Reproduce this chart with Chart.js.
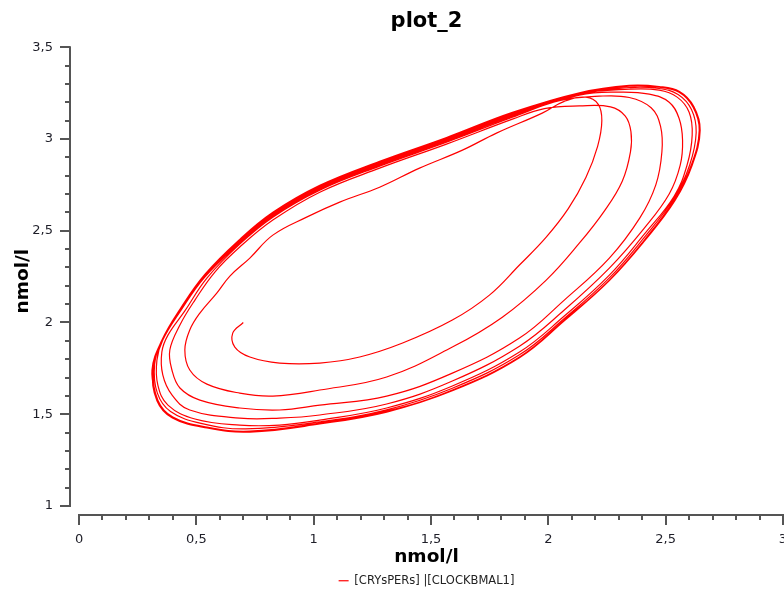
<!DOCTYPE html>
<html lang="es">
<head>
<meta charset="utf-8">
<title>plot_2</title>
<script src="https://cdn.jsdelivr.net/npm/chart.js@4.4.1/dist/chart.umd.min.js"></script>
<style>
    html, body { margin: 0; padding: 0; background: #fff; }
    #grafica-div { width: 784px; height: 589px; }
</style>
</head>
<body>
<div id="grafica-div"><canvas id="myChart"></canvas></div>
<script>
// Trayectoria: [CRYsPERs, CLOCKBMAL1] en nmol/l, una vuelta por arreglo
const vuelta0 = [[0.70,2.00],[0.655,1.942],[0.664,1.866],[0.728,1.812],[0.855,1.779],[1.026,1.779],[1.196,1.812],[1.379,1.888],[1.591,2.013],[1.749,2.149],[1.877,2.313],[1.991,2.465],[2.085,2.620],[2.160,2.790],[2.210,2.960],[2.228,3.100],[2.212,3.190],[2.160,3.228],[2.068,3.205],[1.974,3.141],[1.779,3.032],[1.634,2.939],[1.451,2.841],[1.281,2.737],[1.111,2.656],[0.970,2.574],[0.826,2.476],[0.728,2.351],[0.643,2.253],[0.587,2.160],[0.515,2.051],[0.472,1.959],[0.451,1.850]];
const vuelta1 = [[0.472,1.741],[0.545,1.664],[0.685,1.615],[0.826,1.599],[1.026,1.632],[1.311,1.703],[1.591,1.866],[1.804,2.029],[1.991,2.231],[2.132,2.432],[2.240,2.610],[2.315,2.770],[2.350,2.930],[2.352,3.040],[2.328,3.125],[2.265,3.175],[2.132,3.180],[1.983,3.165],[1.847,3.108],[1.566,2.972],[1.281,2.841],[1.026,2.710],[0.826,2.558],[0.685,2.411],[0.579,2.275],[0.494,2.122],[0.430,1.986],[0.387,1.850]];
const vuelta2 = [[0.396,1.741],[0.430,1.643],[0.515,1.577],[0.685,1.534],[0.855,1.523],[1.026,1.550],[1.311,1.599],[1.591,1.724],[1.877,1.915],[2.068,2.122],[2.260,2.351],[2.390,2.570],[2.458,2.750],[2.484,2.930],[2.478,3.070],[2.438,3.170],[2.345,3.226],[2.217,3.233],[2.047,3.208],[1.847,3.118],[1.566,2.982],[1.281,2.852],[1.026,2.721],[0.826,2.574],[0.685,2.427],[0.545,2.242],[0.451,2.063],[0.379,1.931],[0.353,1.839]];
const vuelta3 = [[0.357,1.714],[0.396,1.605],[0.472,1.523],[0.685,1.479],[0.855,1.479],[1.026,1.496],[1.311,1.556],[1.591,1.681],[1.877,1.871],[2.068,2.068],[2.260,2.296],[2.409,2.514],[2.515,2.700],[2.562,2.857],[2.572,2.993],[2.557,3.113],[2.515,3.200],[2.430,3.244],[2.302,3.255],[2.132,3.239],[1.847,3.124],[1.566,2.988],[1.281,2.857],[1.026,2.727],[0.826,2.580],[0.685,2.432],[0.536,2.247],[0.430,2.057],[0.357,1.904],[0.332,1.795]];
const vuelta4 = [[0.336,1.659],[0.379,1.550],[0.494,1.474],[0.685,1.441],[0.855,1.441],[1.026,1.468],[1.311,1.534],[1.591,1.654],[1.877,1.839],[2.068,2.035],[2.260,2.258],[2.409,2.481],[2.536,2.688],[2.591,2.857],[2.613,3.021],[2.600,3.146],[2.549,3.228],[2.472,3.266],[2.345,3.271],[2.132,3.244],[1.847,3.130],[1.566,2.993],[1.281,2.863],[1.026,2.732],[0.826,2.585],[0.685,2.438],[0.536,2.250],[0.430,2.060],[0.355,1.904],[0.322,1.770]];
const vuelta5 = [[0.334,1.615],[0.390,1.515],[0.520,1.450],[0.710,1.420],[1.026,1.458],[1.311,1.524],[1.591,1.642],[1.877,1.824],[2.068,2.022],[2.260,2.243],[2.409,2.464],[2.536,2.678],[2.602,2.857],[2.630,3.035],[2.610,3.160],[2.553,3.242],[2.472,3.275],[2.345,3.280],[2.132,3.246],[1.847,3.136],[1.566,2.998],[1.281,2.868],[1.026,2.738],[0.826,2.590],[0.685,2.444],[0.536,2.254],[0.430,2.064],[0.356,1.904],[0.317,1.741]];
const vuelta6 = [[0.336,1.577],[0.400,1.485],[0.545,1.430],[0.728,1.408],[1.026,1.452],[1.311,1.517],[1.591,1.632],[1.877,1.812],[2.068,2.013],[2.260,2.231],[2.409,2.449],[2.536,2.667],[2.609,2.857],[2.643,3.048],[2.617,3.173],[2.557,3.255],[2.472,3.282],[2.345,3.288],[2.132,3.249],[1.847,3.141],[1.566,3.004],[1.281,2.874],[1.026,2.743],[0.826,2.596],[0.685,2.449],[0.536,2.258],[0.430,2.068],[0.357,1.904],[0.315,1.741]];
const vuelta7 = [[0.332,1.574],[0.398,1.480],[0.545,1.425],[0.728,1.403],[1.026,1.447],[1.311,1.512],[1.591,1.628],[1.877,1.808],[2.068,2.009],[2.260,2.228],[2.411,2.446],[2.540,2.665],[2.613,2.857],[2.647,3.048],[2.620,3.177],[2.559,3.259],[2.472,3.286],[2.345,3.292],[2.132,3.252],[1.847,3.145],[1.566,3.008],[1.281,2.878],[1.026,2.747],[0.826,2.600],[0.685,2.453],[0.536,2.262],[0.430,2.072],[0.354,1.906],[0.311,1.741],[0.332,1.574]];

// ticks de los ejes (cada 0.1, etiqueta cada 0.5)
const xTicks = [0,0.1,0.2,0.3,0.4,0.5,0.6,0.7,0.8,0.9,1,1.1,1.2,1.3,1.4,1.5,1.6,1.7,1.8,1.9,2,2.1,2.2,2.3,2.4,2.5,2.6,2.7,2.8,2.9,3];
const yTicks = [1,1.1,1.2,1.3,1.4,1.5,1.6,1.7,1.8,1.9,2,2.1,2.2,2.3,2.4,2.5,2.6,2.7,2.8,2.9,3,3.1,3.2,3.3,3.4,3.5];
const xEtiquetas = ['0', '0,5', '1', '1,5', '2', '2,5', '3'];
const yEtiquetas = ['1', '1,5', '2', '2,5', '3', '3,5'];

let puntos = [vuelta0, vuelta1, vuelta2, vuelta3, vuelta4, vuelta5, vuelta6, vuelta7]
    .flat()
    .map(p => ({ x: p[0], y: p[1] }));

// dibuja las lineas de los ejes separadas del area, con ticks mayores y menores
const ejesPlugin = {
    id: 'ejes',
    afterDraw(chart) {
        let c = chart.ctx;
        let sx = chart.scales.x;
        let sy = chart.scales.y;
        let area = chart.chartArea;
        c.save();
        c.strokeStyle = '#555';
        c.lineWidth = 2;
        c.beginPath();
        c.moveTo(area.left, sy.getPixelForValue(3.5) - 1);
        c.lineTo(area.left, sy.getPixelForValue(1) + 1);
        c.moveTo(sx.getPixelForValue(0) - 1, area.bottom);
        c.lineTo(sx.getPixelForValue(3) + 1, area.bottom);
        c.stroke();

        c.beginPath();
        yTicks.forEach((v, i) => {
            let py = Math.round(sy.getPixelForValue(v));
            let largo = i % 5 === 0 ? 10 : 5;
            c.moveTo(area.left, py);
            c.lineTo(area.left - largo, py);
        });
        xTicks.forEach((v, i) => {
            let px = Math.round(sx.getPixelForValue(v));
            let largo = i % 5 === 0 ? 10 : 5;
            c.moveTo(px, area.bottom);
            c.lineTo(px, area.bottom + largo);
        });
        c.stroke();
        c.restore();
    }
};

let ctx = document.getElementById('myChart').getContext('2d');

let miGrafico = new Chart(ctx, {
    type: 'scatter',
    data: {
        datasets: [{
            label: '[CRYsPERs] |[CLOCKBMAL1]',
            data: puntos,
            showLine: true,
            borderColor: '#ff0000',
            backgroundColor: '#ff0000',
            borderWidth: 1.2,
            pointRadius: 0,
            tension: 0.4
        }]
    },
    options: {
        responsive: true,
        maintainAspectRatio: false,
        animation: false,
        layout: { padding: 0 },
        plugins: {
            title: {
                display: true,
                fullSize: false,
                text: 'plot_2',
                color: '#000',
                font: { family: 'DejaVu Sans', size: 21, weight: 'bold' },
                padding: { top: 9, bottom: 13 }
            },
            legend: {
                position: 'bottom',
                fullSize: false,
                maxHeight: 18,
                labels: {
                    usePointStyle: true,
                    pointStyle: 'line',
                    pointStyleWidth: 10,
                    padding: 4,
                    color: '#222',
                    font: { family: 'DejaVu Sans', size: 11.5 }
                }
            },
            tooltip: { enabled: false }
        },
        scales: {
            x: {
                type: 'linear',
                min: -0.0384,
                max: 3,
                grid: { display: false, drawTicks: false },
                border: { display: false },
                afterBuildTicks: s => { s.ticks = xTicks.map(v => ({ value: v })); },
                afterFit: s => { s.height = 56; s.paddingRight = 1; s.paddingLeft = 0; },
                ticks: {
                    padding: 17,
                    autoSkip: false,
                    maxRotation: 0,
                    color: '#1e1e28',
                    font: { family: 'DejaVu Sans', size: 13 },
                    callback: (v, i) => i % 5 === 0 ? xEtiquetas[i / 5] : ''
                },
                title: {
                    display: true,
                    text: 'nmol/l',
                    color: '#000',
                    font: { family: 'DejaVu Sans', size: 18.5, weight: 'bold' },
                    padding: { top: 0, bottom: 3 }
                }
            },
            y: {
                type: 'linear',
                min: 0.951,
                max: 3.5,
                grid: { display: false, drawTicks: false },
                border: { display: false },
                afterBuildTicks: s => { s.ticks = yTicks.map(v => ({ value: v })); },
                afterFit: s => { s.width = 70; s.paddingTop = 0; s.paddingBottom = 0; },
                ticks: {
                    padding: 17,
                    autoSkip: false,
                    color: '#1e1e28',
                    font: { family: 'DejaVu Sans', size: 13 },
                    callback: (v, i) => i % 5 === 0 ? yEtiquetas[i / 5] : ''
                },
                title: {
                    display: true,
                    text: 'nmol/l',
                    color: '#000',
                    font: { family: 'DejaVu Sans', size: 18.5, weight: 'bold' },
                    padding: { top: 12, bottom: 0 }
                }
            }
        }
    },
    plugins: [ejesPlugin]
});
</script>
</body>
</html>
